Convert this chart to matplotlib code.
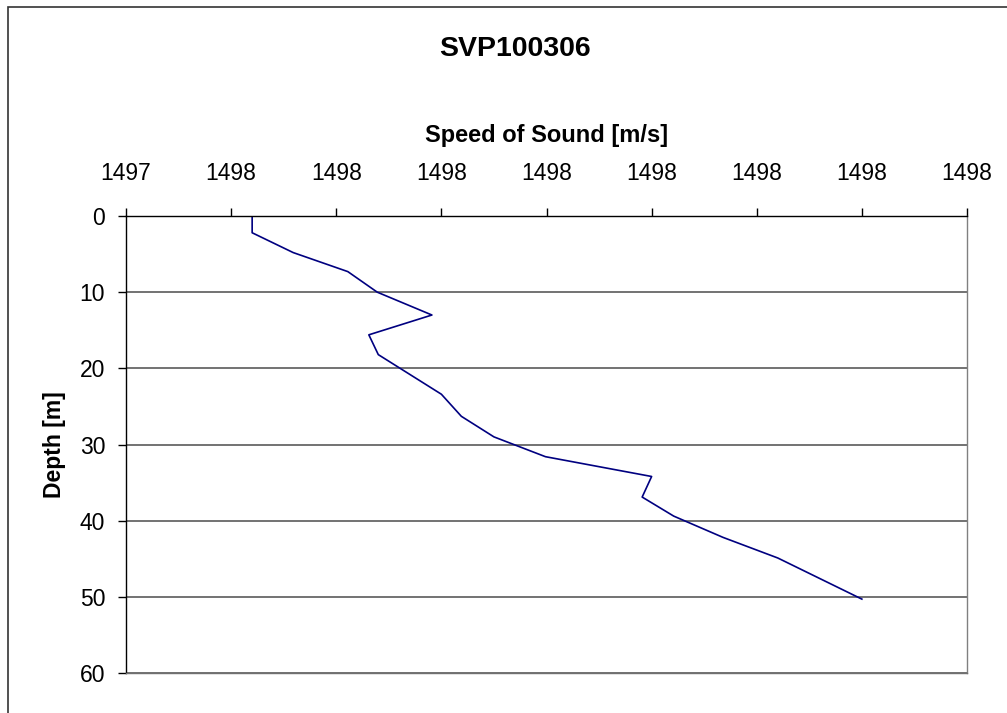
import matplotlib
matplotlib.use('Agg')
import matplotlib.pyplot as plt
from matplotlib.patches import Rectangle

plt.rcParams['font.family'] = ['Liberation Sans', 'DejaVu Sans']

# sound speed profile
depth = [0, 2.2, 4.8, 7.3, 10.0, 13.0, 15.6, 18.2, 23.4, 26.3, 29.0,
         31.6, 34.2, 36.9, 39.4, 42.2, 44.9, 50.3]
speed = [1497.520, 1497.520, 1497.559, 1497.611, 1497.639, 1497.691,
         1497.631, 1497.640, 1497.700, 1497.719, 1497.750, 1497.799,
         1497.900, 1497.891, 1497.921, 1497.968, 1498.020, 1498.100]

x_ticks = [1497.4, 1497.5, 1497.6, 1497.7, 1497.8, 1497.9, 1498.0, 1498.1, 1498.2]
x_tick_labels = ['1497', '1498', '1498', '1498', '1498', '1498', '1498', '1498', '1498']
y_ticks = [0, 10, 20, 30, 40, 50, 60]

W, H = 1007, 713
fig = plt.figure(figsize=(W / 100, H / 100), dpi=100)

# outer chart border (right and bottom edges fall outside the picture)
fig.patches.append(Rectangle((8 / W, -0.05), 1.1, 1.05 - 7 / H,
                             transform=fig.transFigure, fill=False,
                             edgecolor='#333333', linewidth=1.2))

ax = fig.add_axes([126 / W, 1 - 673 / H, (967 - 126) / W, (673 - 216) / H])
ax.plot(speed, depth, color='#000080', linewidth=1.2)

ax.set_xlim(x_ticks[0], x_ticks[-1])
ax.set_ylim(60, 0)
ax.xaxis.tick_top()
ax.xaxis.set_label_position('top')
ax.set_xticks(x_ticks)
ax.set_xticklabels(x_tick_labels)
ax.set_yticks(y_ticks)
ax.tick_params(axis='x', direction='out', length=6, width=1, pad=16, labelsize=16.5)
ax.tick_params(axis='y', direction='out', length=6, width=1, pad=9, labelsize=16.5)

for y in y_ticks[1:]:
    ax.axhline(y, color='#5a5a5a', linewidth=1.2, zorder=0)

ax.spines['left'].set_color('black')
ax.spines['top'].set_color('black')
ax.spines['right'].set_color('#808080')
ax.spines['bottom'].set_color('#707070')
for s in ax.spines.values():
    s.set_linewidth(1.0)

ax.set_xlabel('Speed of Sound [m/s]', fontsize=17, fontweight='bold', labelpad=15)
ax.set_ylabel('Depth [m]', fontsize=16.5, fontweight='bold', labelpad=10)
fig.text(515 / W, 1 - 49 / H, 'SVP100306', fontsize=20.5, fontweight='bold',
         ha='center', va='center')

fig.savefig('out.png', dpi=100)
